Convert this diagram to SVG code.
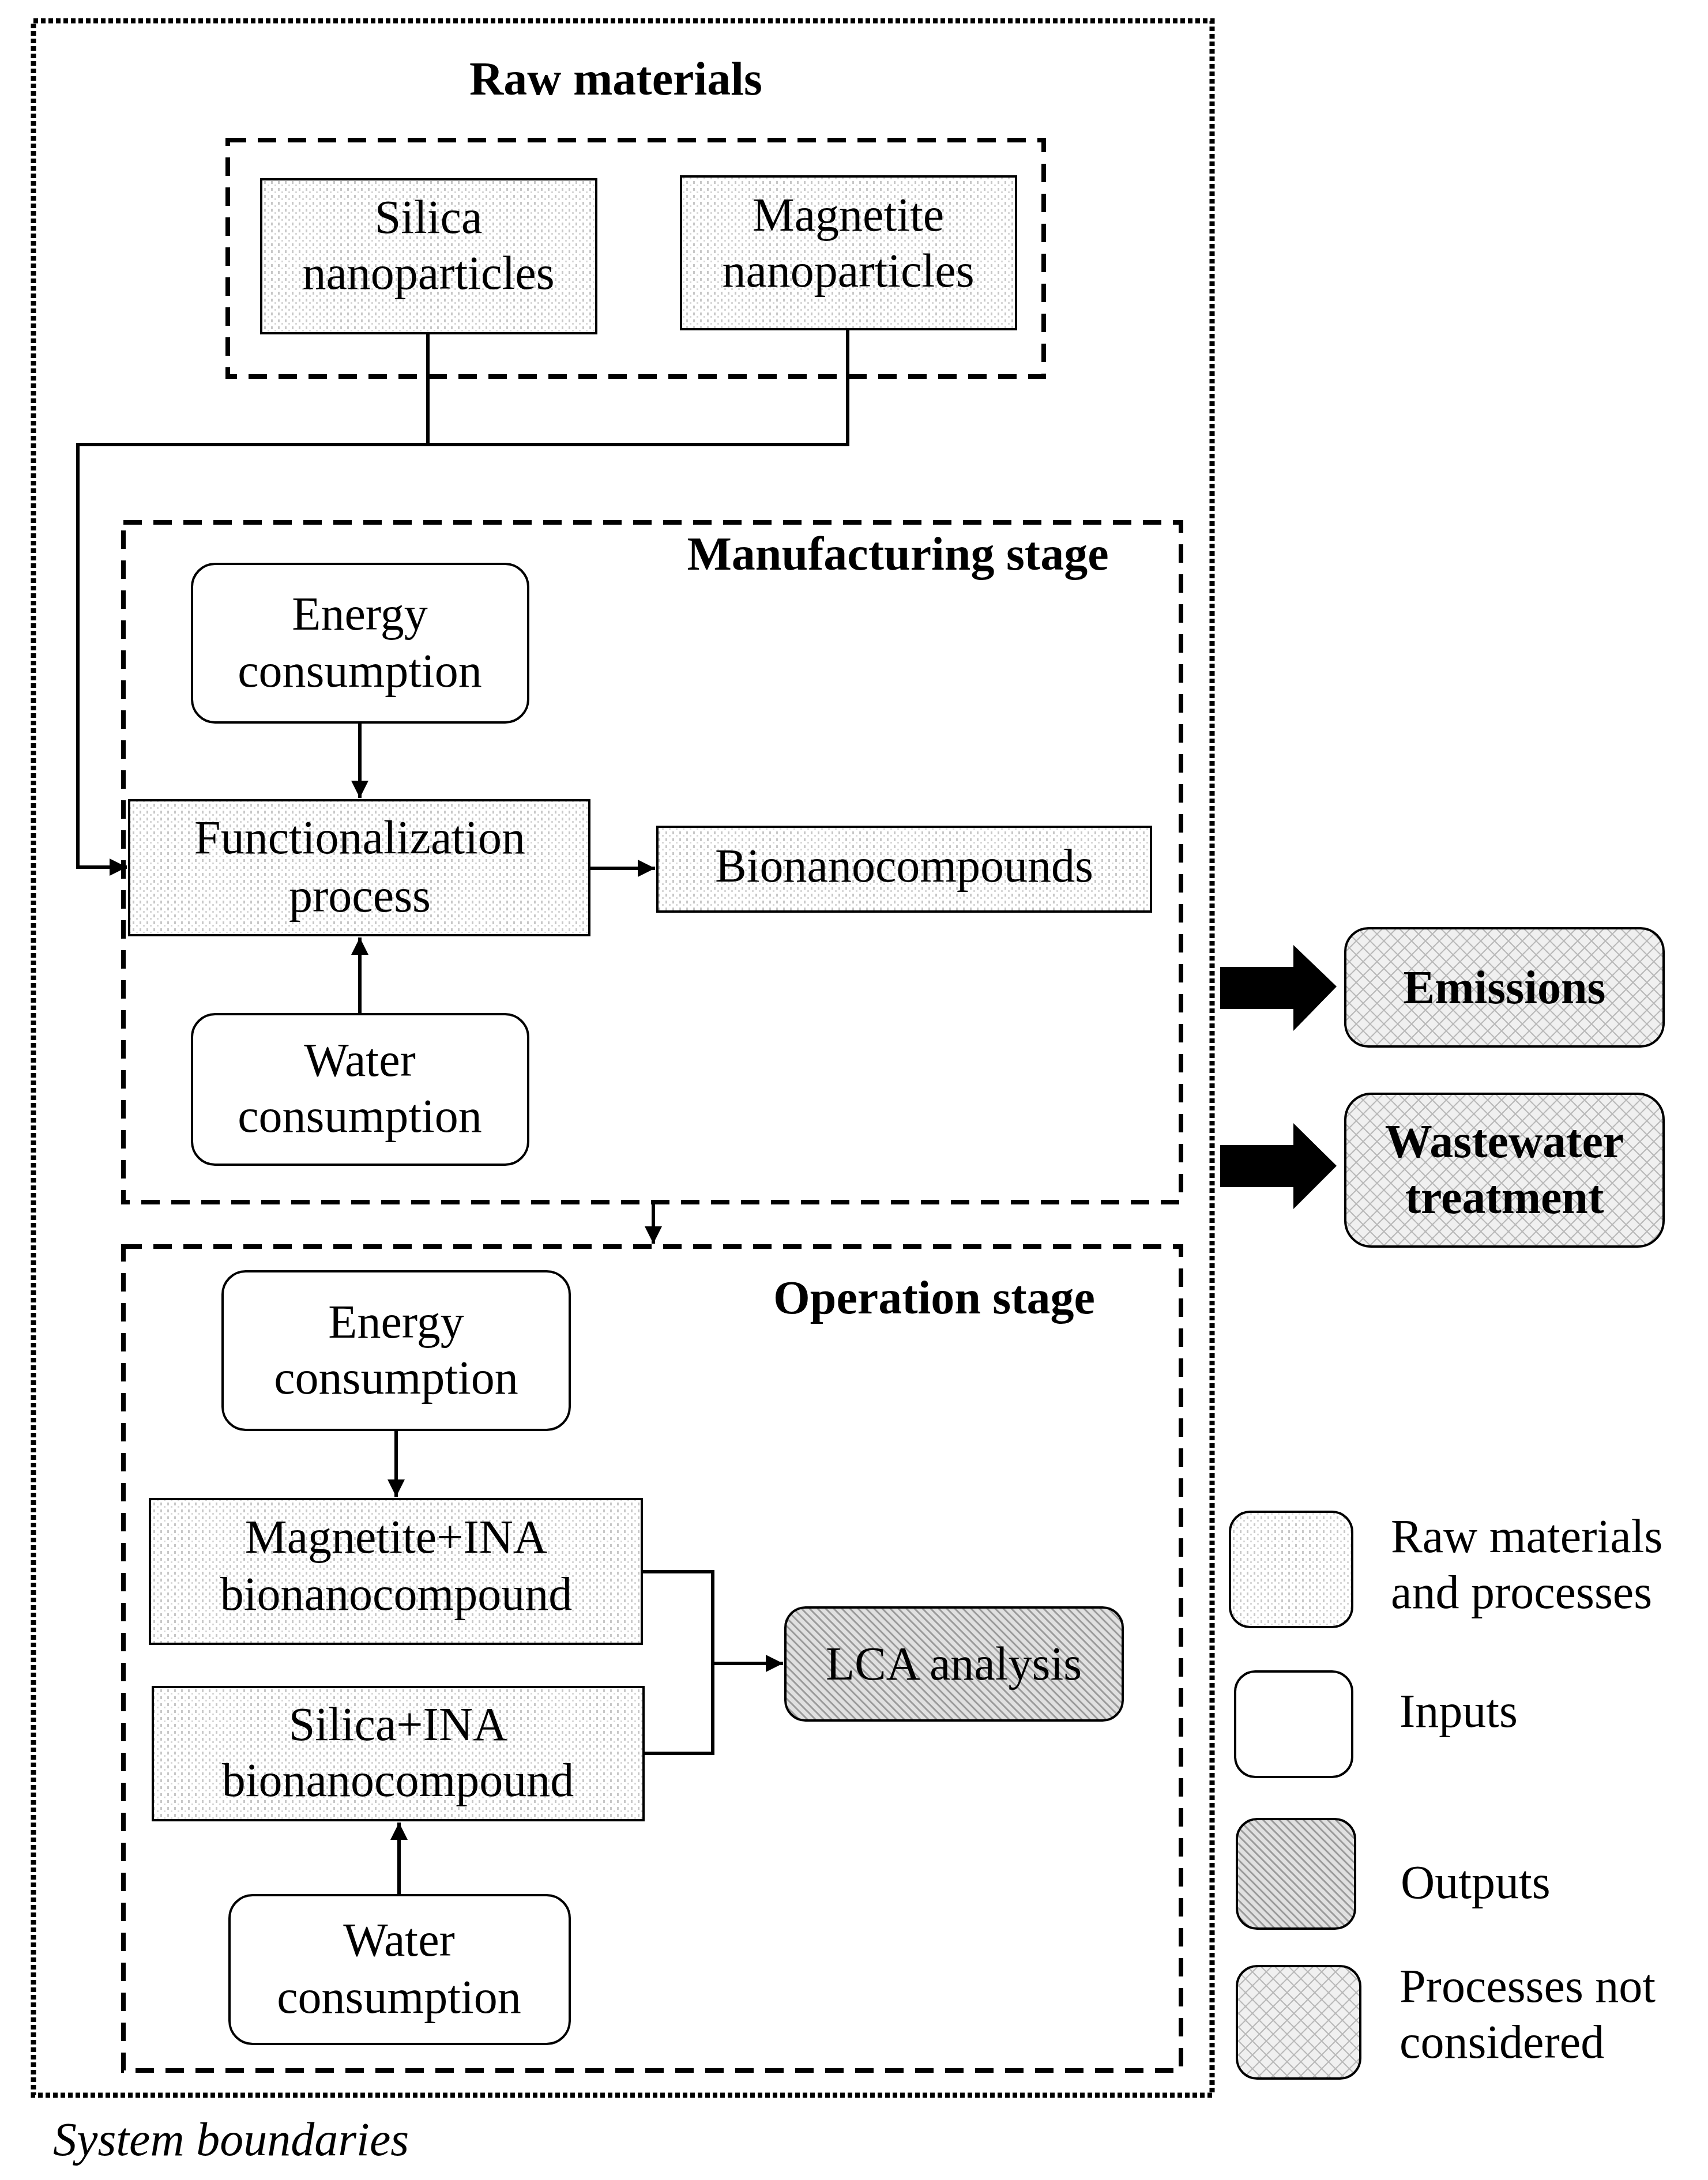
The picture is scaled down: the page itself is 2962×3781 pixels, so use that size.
<svg xmlns="http://www.w3.org/2000/svg" width="2962" height="3781" viewBox="0 0 2962 3781">
<style>
text{font-family:"Liberation Serif","DejaVu Serif",serif;font-size:82px;fill:#000;text-anchor:middle}
.b{font-weight:bold}
.l{text-anchor:start}
.box{stroke:#000;stroke-width:4}
.dash{fill:none;stroke:#000;stroke-width:8;stroke-dasharray:32 20}
.c{fill:none;stroke:#000;stroke-width:6}
</style>
<defs>
<pattern id="dots" width="12" height="12" patternUnits="userSpaceOnUse"><rect width="12" height="12" fill="#fff"/><rect x="2" y="2" width="3" height="5" fill="#c8c8c8"/><rect x="8" y="8" width="3" height="3" fill="#d8d8d8"/></pattern>
<pattern id="diag" width="14" height="14" patternUnits="userSpaceOnUse"><rect width="14" height="14" fill="#e0e0e0"/><path d="M0 0L14 14M-7 7L7 21M7 -7L21 7" stroke="#9a9a9a" stroke-width="3"/></pattern>
<pattern id="cross" width="24" height="24" patternUnits="userSpaceOnUse"><rect width="24" height="24" fill="#f0f0f0"/><path d="M0 0L24 24M24 0L0 24" stroke="#b8b8b8" stroke-width="2"/></pattern>
<marker id="ah" viewBox="0 0 10 10" refX="10" refY="5" markerWidth="5" markerHeight="5" orient="auto" markerUnits="strokeWidth"><path d="M0 0L10 5L0 10z" fill="#000"/></marker>
</defs>
<rect x="58" y="36" width="2044" height="3598" fill="none" stroke="#000" stroke-width="9" stroke-dasharray="8 5"/>
<text x="1068" y="164" class="b">Raw materials</text>
<rect x="395" y="243" width="1415" height="410" class="dash"/>
<rect x="214" y="906" width="1834" height="1179" class="dash"/>
<text x="1557" y="988" class="b">Manufacturing stage</text>
<rect x="214" y="2162" width="1834" height="1429" class="dash"/>
<text x="1620" y="2278" class="b">Operation stage</text>
<g id="connectors">
<path class="c" d="M742 578V771M1470 571V771H135V1504H220" marker-end="url(#ah)"/>
<path class="c" d="M624 1253V1384" marker-end="url(#ah)"/>
<path class="c" d="M1022 1506H1136" marker-end="url(#ah)"/>
<path class="c" d="M624 1759V1626" marker-end="url(#ah)"/>
<path class="c" d="M1133 2085V2157" marker-end="url(#ah)"/>
<path class="c" d="M687 2480V2596" marker-end="url(#ah)"/>
<path class="c" d="M692 3287V3161" marker-end="url(#ah)"/>
<path class="c" d="M1113 2726H1236V3041H1116M1236 2885H1358" marker-end="url(#ah)"/>
<path d="M2116 1677H2243V1639L2318 1711L2243 1788V1750H2116Z" fill="#000"/>
<path d="M2116 1986H2243V1948L2318 2022L2243 2097V2059H2116Z" fill="#000"/>
</g>
<g id="silica"><rect x="453" y="311" width="581" height="267" fill="url(#dots)" class="box"/><text x="743" y="404">Silica</text><text x="743" y="501">nanoparticles</text></g>
<g id="magnetite"><rect x="1181" y="306" width="581" height="265" fill="url(#dots)" class="box"/><text x="1471" y="400">Magnetite</text><text x="1471" y="497">nanoparticles</text></g>
<g id="energy1"><rect x="333" y="978" width="583" height="275" rx="40" fill="#fff" class="box"/><text x="624" y="1092">Energy</text><text x="624" y="1191">consumption</text></g>
<g id="func"><rect x="224" y="1388" width="798" height="234" fill="url(#dots)" class="box"/><text x="624" y="1480">Functionalization</text><text x="624" y="1581">process</text></g>
<g id="bionano"><rect x="1140" y="1434" width="856" height="147" fill="url(#dots)" class="box"/><text x="1568" y="1529">Bionanocompounds</text></g>
<g id="water1"><rect x="333" y="1759" width="583" height="261" rx="40" fill="#fff" class="box"/><text x="624" y="1866">Water</text><text x="624" y="1963">consumption</text></g>
<g id="energy2"><rect x="386" y="2205" width="602" height="275" rx="40" fill="#fff" class="box"/><text x="687" y="2320">Energy</text><text x="687" y="2417">consumption</text></g>
<g id="magina"><rect x="260" y="2600" width="853" height="251" fill="url(#dots)" class="box"/><text x="687" y="2693">Magnetite+INA</text><text x="687" y="2792">bionanocompound</text></g>
<g id="silina"><rect x="265" y="2926" width="851" height="231" fill="url(#dots)" class="box"/><text x="690" y="3018">Silica+INA</text><text x="690" y="3115">bionanocompound</text></g>
<g id="water2"><rect x="398" y="3287" width="590" height="258" rx="40" fill="#fff" class="box"/><text x="692" y="3392">Water</text><text x="692" y="3491">consumption</text></g>
<g id="lca"><rect x="1362" y="2788" width="585" height="196" rx="35" fill="url(#diag)" class="box"/><text x="1654" y="2913">LCA analysis</text></g>
<g id="emissions"><rect x="2333" y="1610" width="552" height="205" rx="40" fill="url(#cross)" class="box"/><text x="2609" y="1740" class="b">Emissions</text></g>
<g id="wastewater"><rect x="2333" y="1897" width="552" height="265" rx="45" fill="url(#cross)" class="box"/><text x="2609" y="2007" class="b">Wastewater</text><text x="2609" y="2104" class="b">treatment</text></g>
<g id="legend">
<rect x="2133" y="2622" width="212" height="200" rx="35" fill="url(#dots)" class="box"/>
<rect x="2142" y="2899" width="203" height="183" rx="35" fill="#fff" class="box"/>
<rect x="2145" y="3155" width="205" height="190" rx="35" fill="url(#diag)" class="box"/>
<rect x="2145" y="3410" width="214" height="195" rx="35" fill="url(#cross)" class="box"/>
<text x="2412" y="2692" class="l">Raw materials</text><text x="2412" y="2789" class="l">and processes</text>
<text x="2427" y="2995" class="l">Inputs</text>
<text x="2429" y="3292" class="l">Outputs</text>
<text x="2427" y="3472" class="l">Processes not</text><text x="2427" y="3569" class="l">considered</text>
</g>
<text x="92" y="3738" class="l" style="font-style:italic">System boundaries</text>
</svg>
